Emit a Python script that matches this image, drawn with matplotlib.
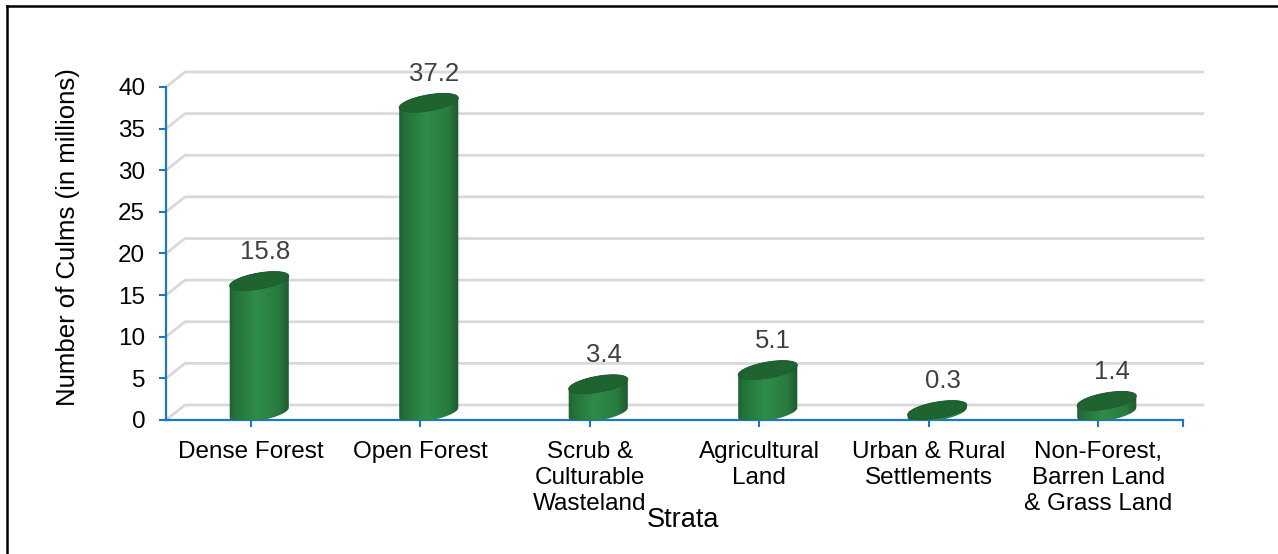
import numpy as np
import matplotlib.pyplot as plt
from matplotlib.patches import Polygon
from matplotlib.lines import Line2D
from matplotlib.colors import LinearSegmentedColormap

# Culm counts per stratum (millions)
strata = ['Dense Forest', 'Open Forest', 'Scrub &\nCulturable\nWasteland',
          'Agricultural\nLand', 'Urban & Rural\nSettlements',
          'Non-Forest,\nBarren Land\n& Grass Land']
culms = [15.8, 37.2, 3.4, 5.1, 0.3, 1.4]
yticks = [0, 5, 10, 15, 20, 25, 30, 35, 40]

plt.rcParams['font.family'] = ['Liberation Sans', 'DejaVu Sans']

W, H = 1278, 554
fig = plt.figure(figsize=(W / 100, H / 100), dpi=100)
ax = fig.add_axes([166 / W, 1 - 420 / H, (1183 - 166) / W, (420 - 87) / H])
ax.set_xlim(0, len(strata))
ax.set_ylim(0, 40)

# pixels per data unit, used for the fake 3D depth
ux = (1183 - 166) / len(strata)
uy = (420 - 87) / 40
ddx, ddy = 19 / ux, 15 / uy

blue = '#1a78cc'
grid = '#d9d9d9'

# back-wall gridlines with the little perspective step at the left
for v in yticks:
    ax.plot([0, ddx, len(strata) + 20 / ux], [v, v + ddy, v + ddy],
            color=grid, lw=2, clip_on=False, zorder=1)

cmap = LinearSegmentedColormap.from_list(
    'cyl', [(0.0, '#1b5a2c'), (0.12, '#247239'), (0.45, '#2e8c48'),
            (0.8, '#287b40'), (1.0, '#1a5229')])
grad = np.linspace(0, 1, 256)[None, :]


def ellipse(xc, yc, t, a=30, b=8, tilt=np.deg2rad(10)):
    ex = a * np.cos(t) * np.cos(tilt) - b * np.sin(t) * np.sin(tilt)
    ey = a * np.cos(t) * np.sin(tilt) + b * np.sin(t) * np.cos(tilt)
    return np.column_stack([xc + ex / ux, yc + ey / uy])


for i, v in enumerate(culms):
    xc = i + 0.5 + 8.5 / ux
    y0, y1 = ddy / 2, v + ddy / 2
    lower = ellipse(xc, y0, np.linspace(np.pi, 2 * np.pi, 60))
    upper = ellipse(xc, y1, np.linspace(0, np.pi, 60))
    body = Polygon(np.vstack([lower, upper]), closed=True,
                   facecolor='none', edgecolor='none', zorder=3)
    ax.add_patch(body)
    half = 32 / ux
    im = ax.imshow(grad, extent=[xc - half, xc + half, 0, v + ddy + 2],
                   aspect='auto', cmap=cmap, zorder=3, interpolation='bilinear')
    im.set_clip_path(body)
    top = ellipse(xc, y1, np.linspace(0, 2 * np.pi, 120))
    ax.add_patch(Polygon(top, closed=True, facecolor='#1f6331',
                         edgecolor='#1c5a2d', lw=0.6, zorder=4))
    ax.annotate(f'{v}', (xc, y1), xytext=(4, 21), textcoords='offset points',
                ha='center', va='center', fontsize=18.5, color='#404040',
                zorder=5)

ax.set_xlim(0, len(strata))
ax.set_ylim(0, 40)

ax.set_xticks(np.arange(len(strata)) + 0.5)
ax.set_xticklabels(strata, linespacing=1.25)
ax.set_xticks([len(strata)], minor=True)
ax.set_yticks(yticks)
ax.tick_params(axis='x', which='both', length=5, width=1.5, color=blue,
               pad=10, labelsize=17.5)
ax.tick_params(axis='y', length=5, width=1.5, color=blue, pad=10,
               labelsize=17.5)

for side in ['top', 'right']:
    ax.spines[side].set_visible(False)
for side in ['left', 'bottom']:
    ax.spines[side].set_color(blue)
    ax.spines[side].set_linewidth(1.6)
ax.set_facecolor('none')

ax.text((68 - 166) / (1183 - 166), (420 - 237) / (420 - 87),
        'Number of Culms (in millions)', rotation=90, ha='center',
        va='center', fontsize=18.5, transform=ax.transAxes)
ax.text((683 - 166) / (1183 - 166), (420 - 527) / (420 - 87), 'Strata',
        ha='center', va='baseline', fontsize=19.5, transform=ax.transAxes)

# frame edges along the top and left of the figure
fig.add_artist(Line2D([7 / W, 7 / W], [0, 1 - 6 / H], color='black', lw=1.8))
fig.add_artist(Line2D([7 / W, 1], [1 - 6 / H, 1 - 6 / H], color='black', lw=1.8))

fig.savefig('out.png', dpi=100, facecolor='white')
